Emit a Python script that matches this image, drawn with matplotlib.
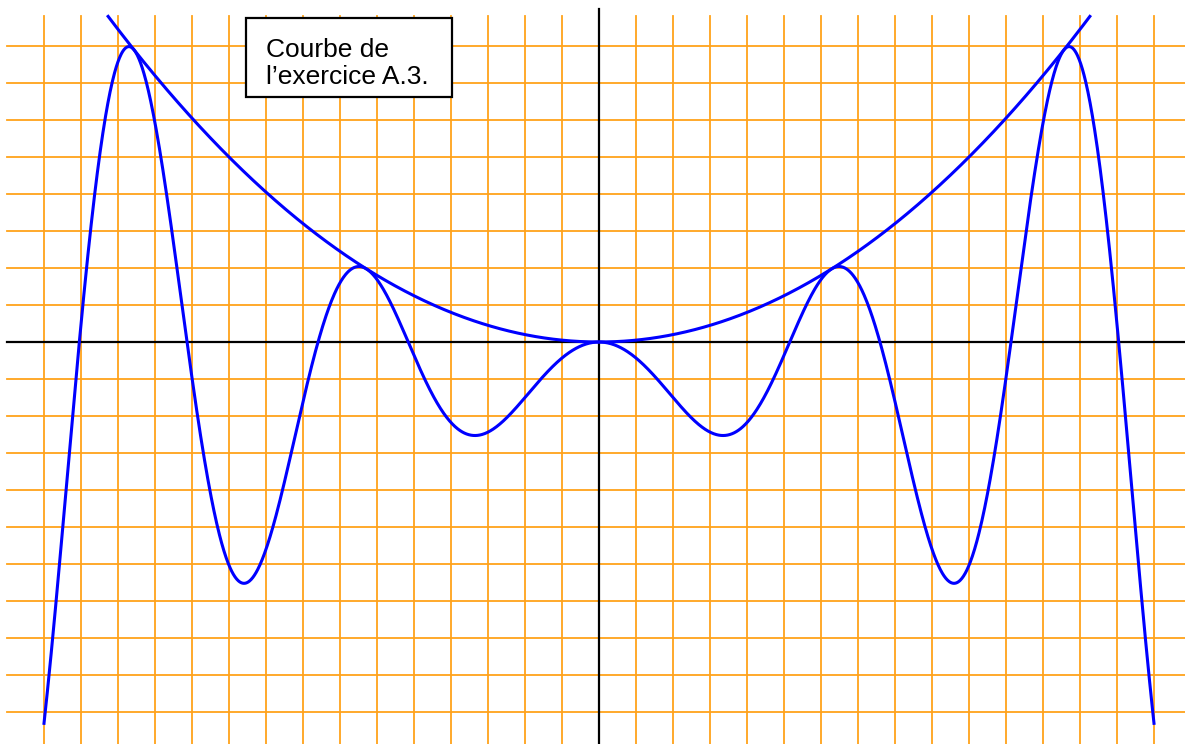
import numpy as np
import matplotlib
matplotlib.use("Agg")
import matplotlib.pyplot as plt
from matplotlib.patches import Rectangle

# curve f(x) = (1 + x^2/20) cos x - 1 and its envelope p(x) = x^2/20
coef_quad = 1 / 20
coef_shift = 1.0
x_range = [-15, 15]

# grid (one unit per square)
grid_x = np.arange(-15, 16)
grid_y = np.arange(-10, 9)
grid_top = 8.8
grid_left = -16

label_text = "Courbe de\nl\u2019exercice A.3."

W, H = 1185, 744
fig = plt.figure(figsize=(W / 100, H / 100), dpi=100)
ax = fig.add_axes([0, 0, 1, 1])
ax.set_xlim(-599 / 37, (W - 599) / 37)
ax.set_ylim(-(H - 342) / 37, 342 / 37)
ax.axis("off")

orange = "#ffa21a"
for gx in grid_x:
    ax.plot([gx, gx], [-12, grid_top], color=orange, lw=1.3, zorder=1)
for gy in grid_y:
    ax.plot([grid_left, 17], [gy, gy], color=orange, lw=1.3, zorder=1)

# axes
ax.plot([grid_left, 17], [0, 0], color="black", lw=1.6, zorder=2)
ax.plot([0, 0], [-12, 9.0], color="black", lw=1.6, zorder=2)

x = np.linspace(x_range[0], x_range[1], 2000)
f = (coef_shift + coef_quad * x**2) * np.cos(x) - coef_shift
ax.plot(x, f, color="#0000ff", lw=2.2, zorder=3)

xm = np.sqrt(grid_top / coef_quad)
xp = np.linspace(-xm, xm, 1000)
ax.plot(xp, coef_quad * xp**2, color="#0000ff", lw=2.2, zorder=3)

# caption box
box = Rectangle((246 / W, 1 - 97 / H), 206 / W, 79 / H, transform=fig.transFigure,
                facecolor="white", edgecolor="black", lw=1.6, zorder=4)
fig.patches.append(box)
fig.text(266 / W, 1 - 89 / H, label_text, family=["Liberation Sans", "DejaVu Sans"],
         fontsize=19, linespacing=1.14, ha="left", va="bottom", zorder=5)

fig.savefig("out.png", dpi=100)
